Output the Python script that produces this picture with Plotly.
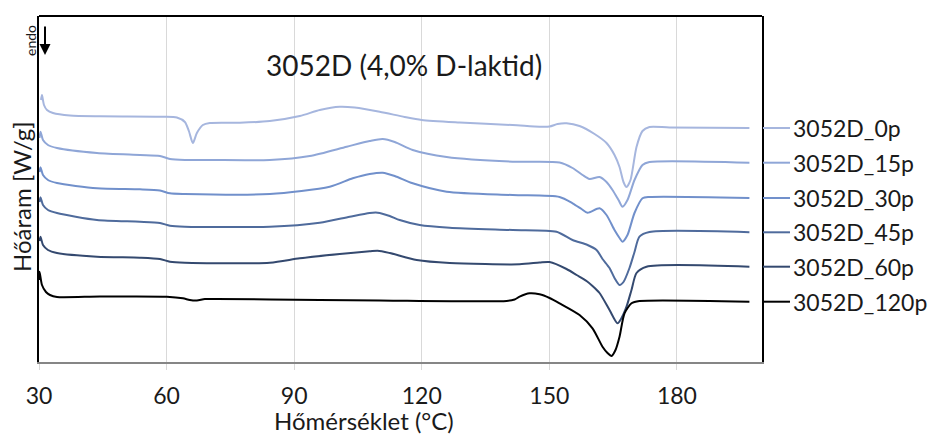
import plotly.graph_objects as go

# ---- data (heat flow in arbitrary offset units) ----
series_names = ["3052D_0p", "3052D_15p", "3052D_30p", "3052D_45p", "3052D_60p", "3052D_120p"]
series_colors = ["#a6b6de", "#8fa6d7", "#7190cb", "#4f6b9c", "#34496f", "#000000"]

temp_0p = [30.47, 30.70, 31.17, 31.88, 33.29, 37.28, 44.33, 59.13, 62.42, 64.30, 65.24, 66.18, 67.12, 68.53, 70.17,
           77.22, 84.27, 91.32, 96.01, 100.71, 104.24, 110.11, 115.98, 119.98, 128.91, 141.36, 147.70, 150.05,
           151.93, 154.05, 157.10, 160.63, 163.44, 165.32, 166.50, 167.43, 168.14, 169.08, 170.49, 171.90,
           173.54, 178.24, 197.04]
hf_0p = [2.62, 2.67, 2.57, 2.52, 2.49, 2.465, 2.457, 2.453, 2.445, 2.40, 2.31, 2.19, 2.29, 2.37, 2.39,
         2.393, 2.41, 2.46, 2.52, 2.553, 2.545, 2.503, 2.45, 2.42, 2.395, 2.37, 2.353, 2.355,
         2.38, 2.387, 2.36, 2.28, 2.19, 2.07, 1.95, 1.80, 1.75, 1.82, 2.15, 2.31,
         2.35, 2.345, 2.34]

temp_15p = [30.12, 30.35, 30.94, 32.11, 34.23, 43.63, 53.73, 58.43, 60.78, 64.30, 70.17, 84.27, 93.67, 102.36,
            107.76, 110.82, 113.64, 117.87, 125.85, 141.36, 152.40, 155.45, 157.80, 159.45, 161.80, 163.44,
            164.85, 166.26, 167.20, 168.37, 170.02, 171.90, 173.54, 197.04]
hf_15p = [2.24, 2.303, 2.22, 2.17, 2.14, 2.09, 2.07, 2.06, 2.03, 2.02, 2.02, 2.02, 2.06, 2.153,
          2.21, 2.23, 2.20, 2.12, 2.05, 2.003, 1.995, 1.94, 1.87, 1.83, 1.85, 1.80,
          1.72, 1.62, 1.553, 1.62, 1.82, 1.97, 2.00, 1.993]

temp_30p = [30.12, 30.35, 30.94, 32.11, 34.23, 43.63, 53.73, 58.43, 60.78, 64.30, 84.27, 98.36, 103.77, 107.76,
            110.82, 113.64, 117.87, 125.85, 141.36, 152.40, 155.45, 157.57, 158.98, 161.80, 163.44, 165.32,
            166.50, 167.20, 168.37, 170.02, 171.90, 173.54, 197.04]
hf_30p = [1.90, 1.947, 1.87, 1.82, 1.79, 1.737, 1.727, 1.715, 1.687, 1.68, 1.68, 1.753, 1.837, 1.88,
          1.893, 1.86, 1.787, 1.703, 1.67, 1.65, 1.587, 1.53, 1.493, 1.537, 1.47, 1.32,
          1.24, 1.203, 1.27, 1.49, 1.637, 1.65, 1.64]

temp_45p = [30.12, 30.35, 30.94, 32.11, 34.23, 43.63, 53.73, 58.43, 60.78, 64.30, 84.27, 96.01, 103.06, 107.76,
            109.64, 112.46, 114.81, 119.51, 126.56, 141.36, 151.69, 155.45, 158.98, 161.09, 162.50, 164.15,
            165.32, 166.50, 167.43, 168.84, 170.02, 171.19, 173.54, 197.04]
hf_45p = [1.60, 1.647, 1.57, 1.52, 1.49, 1.42, 1.403, 1.39, 1.363, 1.353, 1.353, 1.393, 1.453, 1.49,
          1.493, 1.46, 1.42, 1.37, 1.343, 1.32, 1.303, 1.22, 1.17, 1.12, 1.03, 0.94,
          0.84, 0.77, 0.80, 0.94, 1.10, 1.253, 1.30, 1.297]

temp_60p = [30.12, 30.35, 30.94, 32.11, 34.23, 43.63, 53.73, 58.43, 60.78, 64.30, 84.27, 91.32, 100.71, 107.76,
            109.64, 112.46, 118.80, 126.56, 143.00, 147.70, 150.05, 154.04, 156.39, 158.74, 160.15, 161.80,
            164.15, 166.03, 166.97, 168.14, 169.31, 170.49, 172.84, 197.04]
hf_60p = [1.21, 1.253, 1.17, 1.12, 1.09, 1.053, 1.043, 1.03, 1.003, 0.993, 0.993, 1.037, 1.08, 1.107,
          1.113, 1.09, 1.02, 0.99, 0.977, 0.995, 1.00, 0.93, 0.87, 0.81, 0.76, 0.69,
          0.52, 0.387, 0.44, 0.553, 0.72, 0.89, 0.953, 0.953]

temp_120p = [30.00, 30.12, 30.70, 31.64, 32.58, 34.23, 44.33, 60.07, 63.83, 65.47, 67.12, 69.00, 71.82, 96.01,
             110.11, 139.95, 141.83, 143.00, 145.35, 147.70, 150.05, 152.40, 157.10, 160.15, 162.50, 163.68,
             164.62, 165.55, 166.50, 167.67, 169.31, 171.19, 197.04]
hf_120p = [0.82, 0.903, 0.77, 0.70, 0.67, 0.65, 0.655, 0.653, 0.637, 0.62, 0.615, 0.63, 0.63, 0.62,
           0.615, 0.61, 0.625, 0.653, 0.687, 0.677, 0.64, 0.587, 0.47, 0.337, 0.153, 0.09,
           0.06, 0.12, 0.253, 0.487, 0.587, 0.61, 0.603]

temps = [temp_0p, temp_15p, temp_30p, temp_45p, temp_60p, temp_120p]
flows = [hf_0p, hf_15p, hf_30p, hf_45p, hf_60p, hf_120p]

x_ticks = [30, 60, 90, 120, 150, 180]
title_text = "3052D (4,0% D-laktid)"
x_title = "Hőmérséklet (°C)"
y_title = "Hőáram [W/g]"

FONT = "Lato, Carlito, 'Open Sans', sans-serif"

fig = go.Figure()
for name, col, t, h in zip(series_names, series_colors, temps, flows):
    fig.add_trace(go.Scatter(x=t, y=h, mode="lines", name=name,
                             line=dict(color=col, width=2, shape="spline", smoothing=0.7),
                             showlegend=False))

annotations = []
shapes = []
for name, col, h in zip(series_names, series_colors, flows):
    shapes.append(dict(type="line", xref="paper", yref="y", x0=1.0014, x1=1.0387,
                       y0=h[-1], y1=h[-1], line=dict(color=col, width=2)))
    annotations.append(dict(text=name, xref="paper", yref="y", x=1.040, y=h[-1],
                            xanchor="left", yanchor="middle", showarrow=False,
                            font=dict(size=23, color="#1a1a1a", family=FONT)))

# top border
shapes.append(dict(type="line", xref="paper", yref="paper", x0=0, x1=1, y0=1, y1=1,
                   line=dict(color="#000000", width=2)))

annotations += [
    dict(text=title_text, xref="paper", yref="paper", x=0.505, y=0.858, showarrow=False,
         xanchor="center", yanchor="middle", font=dict(size=28, color="#1a1a1a", family=FONT)),
    dict(text=x_title, xref="paper", yref="paper", x=0.4495, y=-0.168, showarrow=False,
         xanchor="center", yanchor="middle", font=dict(size=24, color="#1a1a1a", family=FONT)),
    dict(text=y_title, xref="paper", yref="paper", x=-0.0235, y=0.477, showarrow=False,
         textangle=-90, xanchor="center", yanchor="middle",
         font=dict(size=24, color="#1a1a1a", family=FONT)),
    dict(text="endo", xref="paper", yref="paper", x=-0.011, y=0.928, showarrow=False,
         textangle=-90, xanchor="center", yanchor="middle",
         font=dict(size=14, color="#1a1a1a", family=FONT)),
    dict(text="", xref="paper", yref="paper", x=0.0083, y=0.887, ax=0, ay=-30,
         showarrow=True, arrowhead=2, arrowsize=1.1, arrowwidth=2, arrowcolor="#000000"),
]

fig.update_layout(
    width=931, height=437,
    margin=dict(l=39, r=169, t=16, b=75),
    paper_bgcolor="white", plot_bgcolor="white",
    font=dict(family=FONT, color="#1a1a1a"),
    xaxis=dict(range=[30, 200], tickvals=x_ticks, ticktext=[str(v) for v in x_ticks],
               showgrid=True, gridcolor="#d9d9d9", gridwidth=1,
               ticks="outside", ticklen=6, tickcolor="#d9d9d9", ticklabelstandoff=6,
               showline=True, linecolor="#868686", linewidth=2,
               tickfont=dict(size=23, color="#1a1a1a", family=FONT), zeroline=False),
    yaxis=dict(range=[0, 3.46], showticklabels=False, showgrid=False, zeroline=False,
               showline=True, linecolor="#000000", linewidth=2, mirror=True, ticks=""),
    shapes=shapes, annotations=annotations,
)

fig.write_html("out.html", config={"displayModeBar": False})

# remove the browser's default page margin so the figure sits at the window's corner
with open("out.html", "r", encoding="utf-8") as f:
    html = f.read()
html = html.replace("<head>", "<head><style>html,body{margin:0;padding:0;overflow:hidden;}</style>", 1)
with open("out.html", "w", encoding="utf-8") as f:
    f.write(html)
